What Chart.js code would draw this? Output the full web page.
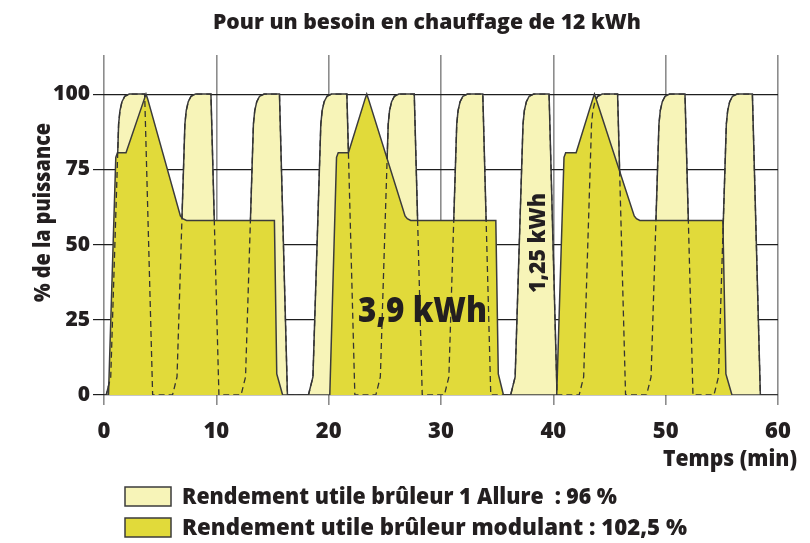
<!DOCTYPE html>
<html>
<head>
<meta charset="utf-8">
<script src="https://cdn.jsdelivr.net/npm/chart.js@4"></script>
<style>
  html, body { margin: 0; padding: 0; background: #fff; }
  #wrap { width: 810px; height: 543px; }
</style>
</head>
<body>
<div id="wrap"><canvas id="chart" width="810" height="543"></canvas></div>
<script>
var xTicks = [0, 10, 20, 30, 40, 50, 60];
var yTicks = [0, 25, 50, 75, 100];

// brûleur 1 allure : marche / arrêt, 10 cycles
var lightX = [0,
  0.2, 0.6, 1.3, 1.42, 1.6, 1.85, 2.25, 3.62, 4.33,
  6.1, 6.5, 7.2, 7.32, 7.5, 7.75, 8.15, 9.52, 10.23,
  12.2, 12.6, 13.3, 13.42, 13.6, 13.85, 14.25, 15.62, 16.33,
  18.2, 18.6, 19.3, 19.42, 19.6, 19.85, 20.25, 21.62, 22.33,
  24.2, 24.6, 25.3, 25.42, 25.6, 25.85, 26.25, 27.62, 28.33,
  30.3, 30.7, 31.4, 31.52, 31.7, 31.95, 32.35, 33.72, 34.43,
  36.2, 36.6, 37.3, 37.42, 37.6, 37.85, 38.25, 39.62, 40.33,
  42.3, 42.7, 43.4, 43.52, 43.7, 43.95, 44.35, 45.72, 46.43,
  48.3, 48.7, 49.4, 49.52, 49.7, 49.95, 50.35, 51.72, 52.43,
  54.3, 54.7, 55.4, 55.52, 55.7, 55.95, 56.35, 57.72, 58.43,
  60];
var lightY = [0,
  0, 6, 90, 94.5, 97.5, 99.3, 100, 100, 0,
  0, 6, 90, 94.5, 97.5, 99.3, 100, 100, 0,
  0, 6, 90, 94.5, 97.5, 99.3, 100, 100, 0,
  0, 6, 90, 94.5, 97.5, 99.3, 100, 100, 0,
  0, 6, 90, 94.5, 97.5, 99.3, 100, 100, 0,
  0, 6, 90, 94.5, 97.5, 99.3, 100, 100, 0,
  0, 6, 90, 94.5, 97.5, 99.3, 100, 100, 0,
  0, 6, 90, 94.5, 97.5, 99.3, 100, 100, 0,
  0, 6, 90, 94.5, 97.5, 99.3, 100, 100, 0,
  0, 6, 90, 94.5, 97.5, 99.3, 100, 100, 0,
  0];

// brûleur modulant : 3 cycles
var darkX = [0, 0.4, 1.05, 1.2, 1.96, 3.6, 3.74, 3.88, 6.8, 7.0, 7.35, 15.17, 15.38, 15.9,
  20.1, 20.7, 20.85, 21.76, 23.25, 23.39, 23.53, 26.8, 27.0, 27.3, 34.88, 35.1, 35.56,
  40.3, 40.95, 41.1, 42.03, 43.52, 43.66, 43.8, 47.2, 47.4, 47.7, 55.09, 55.36, 55.9, 60];
var darkY = [0, 0, 79, 80.5, 80.5, 98.5, 100, 98.5, 59.5, 58.6, 58, 58, 7, 0,
  0, 79, 80.5, 80.5, 98.5, 100, 98.5, 59.5, 58.6, 58, 58, 7, 0,
  0, 79, 80.5, 80.5, 98.5, 100, 98.5, 59.5, 58.6, 58, 58, 7, 0, 0];

var titleText = "Pour un besoin en chauffage de 12 kWh";
var yTitle = "% de la puissance";
var xTitle = "Temps (min)";
var legendLabels = ["Rendement utile brûleur 1 Allure  : 96 %", "Rendement utile brûleur modulant : 102,5 %"];
var noteBig = "3,9 kWh";
var noteSmall = "1,25 kWh";

var lightCol = "#f7f4b8";
var darkCol = "#e1da3a";
var lineCol = "#3b3b3b";
var textCol = "#231f20";
var fontFam = "'Open Sans'";

function pts(xs, ys) {
  return xs.map(function(x, i) { return {x: x, y: ys[i]}; });
}

// text squeezed to the width measured on the picture
function fitText(ctx, txt, x, y, w, size, rot) {
  ctx.save();
  ctx.font = "800 " + size + "px " + fontFam;
  var m = ctx.measureText(txt).width;
  ctx.translate(x, y);
  if (rot) ctx.rotate(-Math.PI / 2);
  ctx.scale(w / m, 1);
  ctx.textAlign = "left";
  ctx.textBaseline = "alphabetic";
  ctx.fillStyle = textCol;
  ctx.fillText(txt, 0, 0);
  ctx.restore();
}

var textPlugin = {
  id: "texts",
  afterDraw: function(chart) {
    var ctx = chart.ctx;
    fitText(ctx, titleText, 213, 29, 428, 21);
    fitText(ctx, yTitle, 50, 302, 179, 22, true);
    fitText(ctx, xTitle, 663, 466, 134, 22);
    fitText(ctx, noteBig, 358, 322, 129, 35);
    fitText(ctx, noteSmall, 545, 293, 100, 22, true);

    // legend
    ctx.save();
    ctx.lineWidth = 1.5;
    ctx.strokeStyle = lineCol;
    ctx.fillStyle = lightCol;
    ctx.fillRect(125, 487, 46, 19);
    ctx.strokeRect(125, 487, 46, 19);
    ctx.fillStyle = darkCol;
    ctx.fillRect(125, 518, 46, 19);
    ctx.strokeRect(125, 518, 46, 19);
    ctx.restore();
    fitText(ctx, legendLabels[0], 182, 504, 435, 22);
    fitText(ctx, legendLabels[1], 182, 535, 505, 22);
  }
};

new Chart(document.getElementById("chart"), {
  type: "line",
  data: {
    datasets: [{
      // bords cachés du brûleur 1 allure, en pointillés
      data: pts(lightX, lightY),
      borderColor: "#333",
      borderWidth: 1.3,
      borderDash: [6, 4],
      fill: false,
      pointRadius: 0,
      tension: 0
    }, {
      label: legendLabels[1],
      data: pts(darkX, darkY),
      backgroundColor: darkCol,
      borderColor: lineCol,
      borderWidth: 1.5,
      fill: "origin",
      pointRadius: 0,
      tension: 0
    }, {
      label: legendLabels[0],
      data: pts(lightX, lightY),
      backgroundColor: lightCol,
      borderColor: lineCol,
      borderWidth: 1.5,
      fill: "origin",
      pointRadius: 0,
      tension: 0
    }]
  },
  options: {
    responsive: false,
    animation: false,
    devicePixelRatio: 1,
    layout: { padding: { top: 55, right: 32, left: 0, bottom: 0 } },
    plugins: {
      legend: { display: false },
      title: { display: false },
      tooltip: { enabled: false }
    },
    scales: {
      x: {
        type: "linear",
        min: 0,
        max: 60,
        z: 1,
        afterBuildTicks: function(s) { s.ticks = xTicks.map(function(v) { return {value: v}; }); },
        afterFit: function(s) { s.height = 148; },
        border: { display: false },
        grid: { color: "#8c8c8c", lineWidth: 1.6, tickLength: 10 },
        ticks: { color: textCol, padding: 14, font: { family: "Open Sans", size: 22, weight: "800" } }
      },
      y: {
        type: "linear",
        min: 0,
        max: 113,
        z: 1,
        afterBuildTicks: function(s) { s.ticks = yTicks.map(function(v) { return {value: v}; }); },
        afterFit: function(s) { s.width = 104; },
        border: { display: false },
        grid: { color: "#1e1e1e", lineWidth: 1.2, tickLength: 11 },
        ticks: { color: textCol, padding: 3, font: { family: "Open Sans", size: 21, weight: "800" } }
      }
    }
  },
  plugins: [textPlugin]
});
</script>
</body>
</html>
